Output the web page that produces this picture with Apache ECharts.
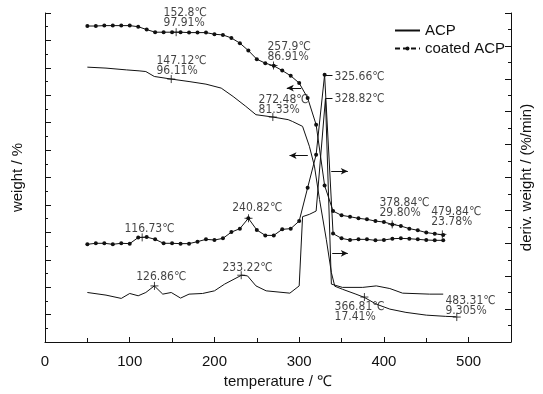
<!DOCTYPE html>
<html>
<head>
<meta charset="utf-8">
<script src="https://cdn.jsdelivr.net/npm/echarts@6/dist/echarts.min.js"></script>
<style>
  html, body { margin: 0; background: #fff; }
  #chart { width: 543px; height: 394px; }
</style>
</head>
<body>
<div id="chart"></div>
<script>
// TG / DTG curves of ACP and coated ACP. The original plot has no y labels and
// stacks the curves with offsets, so y values are in axis units
// (left: 0-24 for weight, right: 0-20 for deriv. weight).
const coatedTemps = [50, 60, 70, 80, 90, 100, 110, 120, 130, 140, 150, 160, 170, 180, 190,
  200, 210, 220, 230, 240, 250, 260, 270, 280, 290, 300, 310, 320, 330, 340, 350, 360,
  370, 380, 390, 400, 410, 420, 430, 440, 450, 460, 470];
const coatedTG = [23.05, 23.05, 23.08, 23.08, 23.08, 23.08, 23.0, 22.79, 22.6, 22.6, 22.6,
  22.6, 22.57, 22.57, 22.57, 22.45, 22.4, 22.18, 21.8, 21.26, 20.63, 20.34, 20.15, 19.8,
  19.42, 18.89, 17.8, 15.85, 11.42, 9.55, 9.24, 9.14, 9.02, 8.95, 8.82, 8.75, 8.58, 8.46,
  8.27, 8.15, 7.98, 7.9, 7.8];
const coatedDTG = [5.94, 6.0, 6.0, 5.94, 6.0, 5.98, 6.35, 6.38, 6.24, 6.0, 6.0, 5.98, 5.98,
  6.1, 6.24, 6.2, 6.3, 6.68, 6.89, 7.52, 6.81, 6.48, 6.48, 6.85, 6.89, 7.35, 9.38, 11.39,
  16.24, 6.59, 6.3, 6.2, 6.24, 6.24, 6.18, 6.2, 6.28, 6.3, 6.28, 6.24, 6.2, 6.18, 6.18];

const acpTG = [[50, 20.05], [72, 19.98], [96, 19.85], [111, 19.78], [119, 19.73], [129, 19.37],
  [149, 19.18], [170, 19.0], [190, 18.81], [208, 18.52], [222, 17.91], [237, 17.19],
  [249, 16.58], [269, 16.41], [287, 16.22], [292, 16.09], [304, 15.73], [312, 14.28],
  [318, 12.83], [324, 10.4], [332, 7.49], [338, 5.06], [342, 4.07], [351, 3.85], [367, 3.49],
  [377, 3.25], [391, 2.76], [407, 2.4], [426, 2.16], [450, 1.96], [473, 1.87], [485, 1.84]];
const acpDTG = [[50, 3.01], [72, 2.85], [90, 2.65], [100, 2.95], [110, 2.81], [119, 3.01],
  [129, 3.41], [139, 2.91], [149, 3.01], [160, 2.67], [170, 2.91], [186, 2.95], [200, 3.11],
  [212, 3.52], [232, 4.06], [239, 4.02], [249, 3.41], [261, 3.11], [289, 2.97], [300, 3.41],
  [304, 7.62], [312, 7.76], [320, 7.96], [331, 14.79], [338, 3.52], [351, 3.32], [375, 3.32],
  [391, 3.41], [407, 3.25], [422, 2.97], [454, 2.91], [470, 2.91]];

// "+" marks on the curves
const tgMarks = [[154.8, 22.6], [269.7, 20.17], [149, 19.18], [268.9, 16.41], [409.8, 8.58],
  [469, 7.85], [377, 3.28], [486, 1.82]];
const dtgMarks = [[114.7, 6.36], [240.2, 7.52], [129.2, 3.41], [231.6, 4.06]];

// annotation text, pinned at [temperature, left-axis value] where the text starts
const notes = [
  ['152.8℃\n97.91%', 139.9, 23.64],
  ['147.12℃\n96.11%', 131.6, 20.17],
  ['257.9℃\n86.91%', 262.6, 21.14],
  ['272.48℃\n81.33%', 252, 17.31],
  ['325.66℃', 341.7, 19.32],
  ['328.82℃', 341.7, 17.75],
  ['116.73℃', 93.8, 8.27],
  ['240.82℃', 220.9, 9.8],
  ['126.86℃', 107.6, 4.78],
  ['233.22℃', 209.5, 5.43],
  ['378.84℃\n29.80%', 394.8, 9.77],
  ['479.84℃\n23.78%', 455.8, 9.16],
  ['366.81℃\n17.41%', 341.7, 2.22],
  ['483.31℃\n9.305%', 472.7, 2.64]
];

const FONT = "'Liberation Sans', Arial, sans-serif";
const NARROW = "'Liberation Sans Narrow', 'DejaVu Sans Condensed', 'Liberation Sans', sans-serif";
const INK = '#111';

const arrow = (x1, x2, y) => [
  { coord: [x1, y], symbol: 'none' },
  { coord: [x2, y], symbol: 'arrow', symbolSize: [5, 7] }
];
const leader = (x1, x2, y) => [{ coord: [x1, y] }, { coord: [x2, y] }];
const markLine = (items) => ({
  silent: true, symbol: ['none', 'none'], label: { show: false },
  lineStyle: { color: INK, width: 1, type: 'solid' }, data: items
});

const yAxis = (max, name, gap) => ({
  type: 'value', min: 0, max, interval: 2,
  name, nameLocation: 'middle', nameGap: gap,
  nameTextStyle: { fontFamily: FONT, fontSize: 15, color: INK },
  axisLine: { show: true, lineStyle: { color: INK, width: 1 } },
  axisTick: { show: true, inside: true, length: 6, lineStyle: { color: INK } },
  minorTick: { show: true, splitNumber: 2, length: 3, lineStyle: { color: INK } },
  axisLabel: { show: false },
  splitLine: { show: false }
});

const lineSeries = (name, yi, data, extra) => Object.assign({
  name, type: 'line', yAxisIndex: yi, data, color: INK,
  symbol: 'none', lineStyle: { color: INK, width: 1 }
}, extra);

const dotted = { symbol: 'circle', symbolSize: 4, showSymbol: true, itemStyle: { color: INK } };

const chart = echarts.init(document.getElementById('chart'), null, { renderer: 'canvas' });
chart.setOption({
  animation: false,
  grid: { left: 45, right: 32, top: 13, bottom: 51 },
  legend: {
    data: [
      { name: 'ACP', itemStyle: { opacity: 0 } },
      { name: 'coated ACP', lineStyle: { type: [5, 3] } }
    ],
    orient: 'vertical', left: 389, top: 18,
    itemWidth: 25, itemHeight: 5, itemGap: 3,
    textStyle: { fontFamily: FONT, fontSize: 15, color: INK }
  },
  xAxis: {
    type: 'value', min: 0, max: 550, interval: 100,
    name: 'temperature / ℃', nameLocation: 'middle', nameGap: 32,
    nameTextStyle: { fontFamily: FONT, fontSize: 15, color: INK },
    axisLine: { lineStyle: { color: INK, width: 1 } },
    axisTick: { inside: true, length: 5, lineStyle: { color: INK } },
    minorTick: { show: true, splitNumber: 2, length: 4, lineStyle: { color: INK } },
    axisLabel: {
      margin: 12, fontFamily: FONT, fontSize: 15, color: INK,
      formatter: (v) => (v > 500 ? '' : v)
    },
    splitLine: { show: false }
  },
  yAxis: [yAxis(24, 'weight / %', 20), yAxis(20, 'deriv. weight / (%/min)', 8)],
  series: [
    lineSeries('ACP', 0, acpTG, { markLine: markLine([arrow(310.2, 288.6, 13.6)]) }),
    lineSeries('ACP', 1, acpDTG, {
      markLine: markLine([arrow(339, 357.4, 5.39), leader(331, 339.3, 14.79)])
    }),
    lineSeries('coated ACP', 0, coatedTemps.map((t, i) => [t, coatedTG[i]]),
      Object.assign({ markLine: markLine([arrow(302.4, 285.4, 18.52)]) }, dotted)),
    lineSeries('coated ACP', 1, coatedTemps.map((t, i) => [t, coatedDTG[i]]),
      Object.assign({
        markLine: markLine([arrow(337.8, 357.4, 10.38), leader(330, 339.3, 16.24)])
      }, dotted)),
    {
      type: 'scatter', yAxisIndex: 0, data: tgMarks, silent: true,
      symbol: 'path://M5,0L5,10M0,5L10,5', symbolSize: 8,
      itemStyle: { color: 'none', borderColor: INK, borderWidth: 1 }
    },
    {
      type: 'scatter', yAxisIndex: 1, data: dtgMarks, silent: true,
      symbol: 'path://M5,0L5,10M0,5L10,5', symbolSize: 8,
      itemStyle: { color: 'none', borderColor: INK, borderWidth: 1 }
    },
    {
      type: 'scatter', yAxisIndex: 0, silent: true, symbolSize: 0,
      data: notes.map((n) => ({ value: [n[1], n[2]], label: { formatter: n[0] } })),
      label: {
        show: true, position: 'right', distance: 0, align: 'left', verticalAlign: 'middle',
        fontFamily: NARROW, fontSize: 12, lineHeight: 10, color: INK
      }
    }
  ]
});
</script>
</body>
</html>
